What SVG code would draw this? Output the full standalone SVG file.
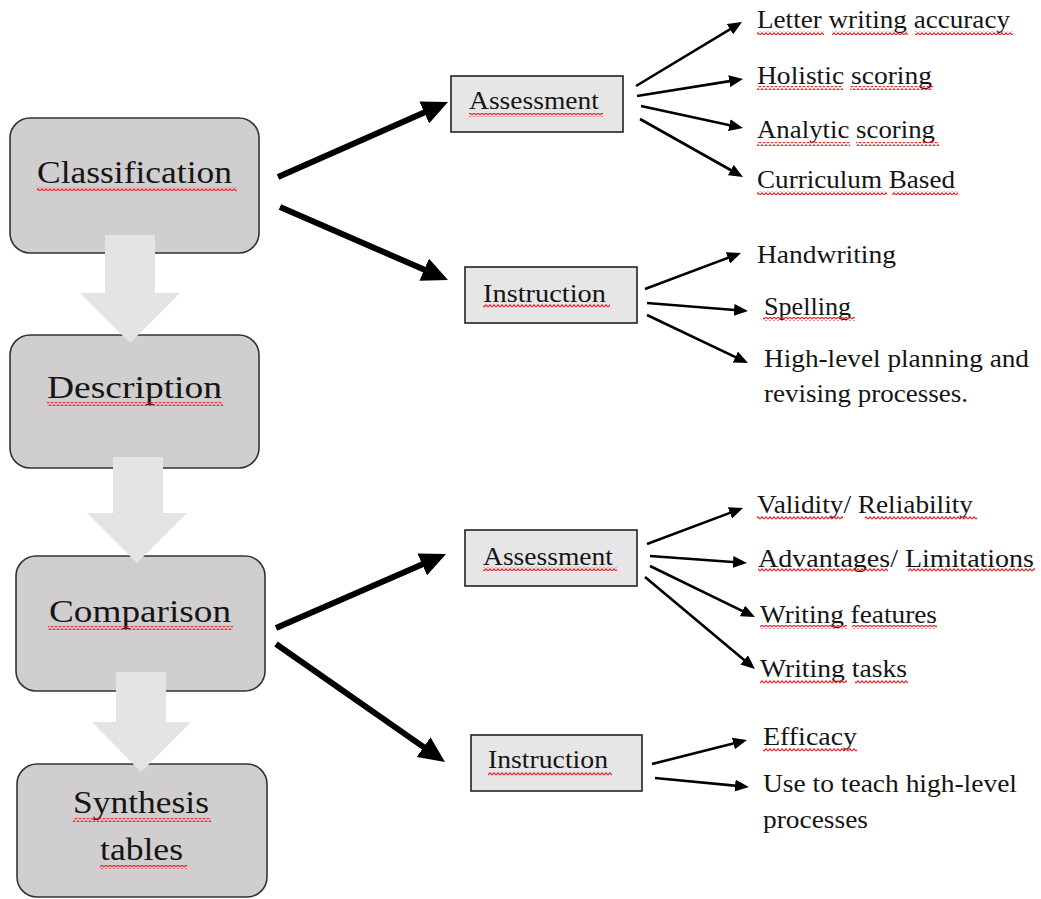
<svg xmlns="http://www.w3.org/2000/svg" width="1041" height="899" viewBox="0 0 1041 899">
  <style>
    .stage { fill: #d0cece; stroke: #333; stroke-width: 1.6; }
    .topic { fill: #e7e6e6; stroke: #222; stroke-width: 1.6; }
    .flow { fill: #e4e4e4; stroke: none; }
    text { font-family: "Liberation Serif", "Times New Roman", serif; fill: #151515; }
    .big { font-size: 32px; }
    .mid { font-size: 26px; }
    .item { font-size: 25px; }
    .thick { stroke: #000; stroke-width: 6; fill: none; marker-end: url(#headBig); }
    .thin { stroke: #000; stroke-width: 2.6; fill: none; marker-end: url(#headSmall); }
    .sq { fill: url(#wave); }
  </style>
  <defs>
    <marker id="headBig" markerUnits="userSpaceOnUse" markerWidth="26" markerHeight="24" refX="18" refY="12" orient="auto">
      <path d="M0,0 L26,12 L0,24 z" fill="#000"/>
    </marker>
    <marker id="headSmall" markerUnits="userSpaceOnUse" markerWidth="14" markerHeight="12" refX="10" refY="6" orient="auto">
      <path d="M0,0 L14,6 L0,12 z" fill="#000"/>
    </marker>
    <pattern id="wave" patternUnits="userSpaceOnUse" width="4" height="4">
      <path d="M0,3.2 L2,0.8 L4,3.2" fill="none" stroke="#ee2b2f" stroke-width="1.2"/>
    </pattern>
  </defs>

  <rect width="1041" height="899" fill="#fff"/>

  <!-- stage boxes -->
  <g id="classification">
    <rect class="stage" x="10" y="118" width="249" height="135" rx="20"/>
    <text class="big" x="37" y="183" textLength="195" lengthAdjust="spacingAndGlyphs">Classification</text>
    <rect class="sq" x="37" y="187" width="200" height="4"/>
  </g>
  <g id="description">
    <rect class="stage" x="10" y="335" width="249" height="133" rx="20"/>
    <text class="big" x="47" y="398" textLength="175" lengthAdjust="spacingAndGlyphs">Description</text>
    <rect class="sq" x="47" y="402" width="176" height="4"/>
  </g>
  <g id="comparison">
    <rect class="stage" x="16" y="556" width="249" height="135" rx="20"/>
    <text class="big" x="49" y="622" textLength="182" lengthAdjust="spacingAndGlyphs">Comparison</text>
    <rect class="sq" x="48" y="626" width="185" height="4"/>
  </g>
  <g id="synthesis">
    <rect class="stage" x="17" y="764" width="250" height="133" rx="20"/>
    <text class="big" x="73" y="813" textLength="136" lengthAdjust="spacingAndGlyphs">Synthesis</text>
    <rect class="sq" x="73" y="818" width="138" height="4"/>
    <text class="big" x="100" y="860" textLength="83" lengthAdjust="spacingAndGlyphs">tables</text>
    <rect class="sq" x="100" y="865" width="87" height="4"/>
  </g>

  <!-- wide grey flow arrows between stages -->
  <g id="flow-arrows">
    <polygon class="flow" points="105,235 155,235 155,293 180,293 130,343 80,293 105,293"/>
    <polygon class="flow" points="113,457 163,457 163,513 187,513 137,563 87,513 113,513"/>
    <polygon class="flow" points="116,672 166,672 166,722 191,722 141,772 92,722 116,722"/>
  </g>

  <!-- topic boxes -->
  <g id="assessment-1">
    <rect class="topic" x="451" y="76" width="172" height="56"/>
    <text class="mid" x="469" y="109" textLength="130" lengthAdjust="spacingAndGlyphs">Assessment</text>
    <rect class="sq" x="469" y="113" width="134" height="4"/>
  </g>
  <g id="instruction-1">
    <rect class="topic" x="465" y="267" width="172" height="56"/>
    <text class="mid" x="483" y="302" textLength="123" lengthAdjust="spacingAndGlyphs">Instruction</text>
    <rect class="sq" x="483" y="304" width="127" height="4"/>
  </g>
  <g id="assessment-2">
    <rect class="topic" x="465" y="530" width="172" height="56"/>
    <text class="mid" x="483" y="565" textLength="130" lengthAdjust="spacingAndGlyphs">Assessment</text>
    <rect class="sq" x="483" y="567" width="134" height="4"/>
  </g>
  <g id="instruction-2">
    <rect class="topic" x="471" y="735" width="171" height="56"/>
    <text class="mid" x="488" y="768" textLength="120" lengthAdjust="spacingAndGlyphs">Instruction</text>
    <rect class="sq" x="488" y="772" width="124" height="4"/>
  </g>

  <!-- leaf labels -->
  <g id="letter-writing">
    <text class="item" x="757" y="28" textLength="253" lengthAdjust="spacingAndGlyphs">Letter writing accuracy</text>
    <rect class="sq" x="757" y="31" width="67" height="4"/>
    <rect class="sq" x="832" y="31" width="76" height="4"/>
    <rect class="sq" x="915" y="31" width="98" height="4"/>
  </g>
  <g id="holistic">
    <text class="item" x="757" y="84" textLength="175" lengthAdjust="spacingAndGlyphs">Holistic scoring</text>
    <rect class="sq" x="757" y="86" width="86" height="4"/>
    <rect class="sq" x="850" y="86" width="83" height="4"/>
  </g>
  <g id="analytic">
    <text class="item" x="757" y="138" textLength="178" lengthAdjust="spacingAndGlyphs">Analytic scoring</text>
    <rect class="sq" x="757" y="142" width="93" height="4"/>
    <rect class="sq" x="856" y="142" width="83" height="4"/>
  </g>
  <g id="curriculum">
    <text class="item" x="757" y="188" textLength="198" lengthAdjust="spacingAndGlyphs">Curriculum Based</text>
    <rect class="sq" x="757" y="191" width="130" height="4"/>
    <rect class="sq" x="892" y="191" width="66" height="4"/>
  </g>
  <g id="handwriting">
    <text class="item" x="757" y="263" textLength="139" lengthAdjust="spacingAndGlyphs">Handwriting</text>
  </g>
  <g id="spelling">
    <text class="item" x="764" y="315" textLength="87" lengthAdjust="spacingAndGlyphs">Spelling</text>
    <rect class="sq" x="763" y="317" width="92" height="4"/>
  </g>
  <g id="high-level">
    <text class="item" x="764" y="367" textLength="265" lengthAdjust="spacingAndGlyphs">High-level planning and</text>
    <text class="item" x="764" y="402" textLength="204" lengthAdjust="spacingAndGlyphs">revising processes.</text>
  </g>
  <g id="validity">
    <text class="item" x="757" y="513" textLength="216" lengthAdjust="spacingAndGlyphs">Validity/ Reliability</text>
    <rect class="sq" x="757" y="516" width="86" height="4"/>
    <rect class="sq" x="865" y="516" width="112" height="4"/>
  </g>
  <g id="advantages">
    <text class="item" x="758" y="567" textLength="276" lengthAdjust="spacingAndGlyphs">Advantages/ Limitations</text>
    <rect class="sq" x="758" y="568" width="130" height="4"/>
    <rect class="sq" x="908" y="568" width="127" height="4"/>
  </g>
  <g id="writing-features">
    <text class="item" x="760" y="623" textLength="177" lengthAdjust="spacingAndGlyphs">Writing features</text>
    <rect class="sq" x="760" y="625" width="87" height="4"/>
    <rect class="sq" x="852" y="625" width="85" height="4"/>
  </g>
  <g id="writing-tasks">
    <text class="item" x="760" y="677" textLength="147" lengthAdjust="spacingAndGlyphs">Writing tasks</text>
    <rect class="sq" x="760" y="680" width="87" height="4"/>
    <rect class="sq" x="855" y="680" width="53" height="4"/>
  </g>
  <g id="efficacy">
    <text class="item" x="763" y="745" textLength="94" lengthAdjust="spacingAndGlyphs">Efficacy</text>
    <rect class="sq" x="763" y="748" width="94" height="4"/>
  </g>
  <g id="teach-high-level">
    <text class="item" x="763" y="792" textLength="254" lengthAdjust="spacingAndGlyphs">Use to teach high-level</text>
    <text class="item" x="763" y="828" textLength="105" lengthAdjust="spacingAndGlyphs">processes</text>
  </g>

  <!-- connectors -->
  <g id="connectors">
    <line class="thick" x1="278" y1="177" x2="440.7" y2="105.2"/>
    <line class="thick" x1="280" y1="207" x2="440.7" y2="276.8"/>
    <line class="thick" x1="276" y1="628" x2="438.7" y2="557.2"/>
    <line class="thick" x1="276" y1="644" x2="438.4" y2="757.4"/>

    <line class="thin" x1="636" y1="86" x2="738.6" y2="24.1"/>
    <line class="thin" x1="637" y1="96" x2="739.1" y2="79.6"/>
    <line class="thin" x1="641" y1="106" x2="739.1" y2="127.2"/>
    <line class="thin" x1="640" y1="119" x2="739.5" y2="175.0"/>

    <line class="thin" x1="645" y1="289" x2="737.3" y2="254.4"/>
    <line class="thin" x1="647" y1="303" x2="744.0" y2="310.7"/>
    <line class="thin" x1="647" y1="315" x2="744.4" y2="361.3"/>

    <line class="thin" x1="647" y1="544" x2="739.3" y2="509.4"/>
    <line class="thin" x1="650" y1="556" x2="743.0" y2="562.7"/>
    <line class="thin" x1="650" y1="566" x2="751.4" y2="615.3"/>
    <line class="thin" x1="645" y1="577" x2="751.9" y2="666.4"/>

    <line class="thin" x1="652" y1="764" x2="743.1" y2="741.0"/>
    <line class="thin" x1="655" y1="778" x2="745.0" y2="786.6"/>
  </g>
</svg>
